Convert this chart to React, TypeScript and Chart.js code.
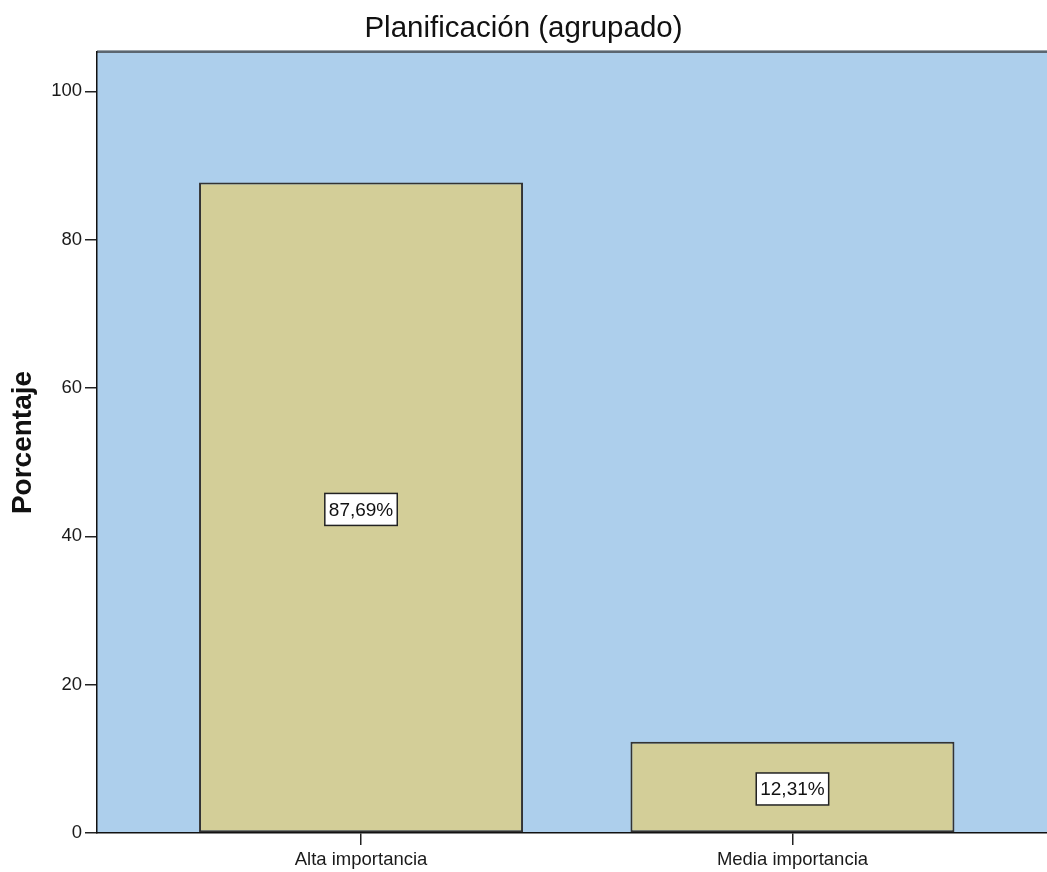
import React, { useEffect, useRef } from "react";
import { Chart, registerables } from "chart.js";

Chart.register(...registerables);

const categories = ["Alta importancia", "Media importancia"];
const percentages = [87.69, 12.31];
const yTicks = [0, 20, 40, 60, 80, 100];
const chartTitle = "Planificación (agrupado)";
const yTitle = "Porcentaje";

const PLOT_BG = "#ADCFEC";
const BAR_FILL = "#D3CE98";
const FONT = "'Liberation Sans', Arial, sans-serif";

const plotBgPlugin = {
  id: "plotBg",
  beforeDraw(chart: any) {
    const { ctx, chartArea } = chart;
    ctx.save();
    ctx.fillStyle = PLOT_BG;
    ctx.fillRect(chartArea.left, chartArea.top, chartArea.right - chartArea.left, chartArea.bottom - chartArea.top);
    ctx.strokeStyle = "#5b6670";
    ctx.lineWidth = 2;
    ctx.beginPath();
    ctx.moveTo(chartArea.left, chartArea.top);
    ctx.lineTo(chartArea.right, chartArea.top);
    ctx.stroke();
    ctx.strokeStyle = "#9aa3aa";
    ctx.lineWidth = 1;
    ctx.beginPath();
    ctx.moveTo(chartArea.left, chartArea.top - 1.5);
    ctx.lineTo(chartArea.right, chartArea.top - 1.5);
    ctx.stroke();
    ctx.restore();
  },
};

const labelBoxPlugin = {
  id: "labelBox",
  afterDatasetsDraw(chart: any) {
    const { ctx } = chart;
    const meta = chart.getDatasetMeta(0);
    ctx.save();
    ctx.font = `19px ${FONT}`;
    ctx.textAlign = "center";
    ctx.textBaseline = "middle";
    meta.data.forEach((bar: any, i: number) => {
      const text = percentages[i].toFixed(2).replace(".", ",") + "%";
      const cx = bar.x;
      const cy = (bar.y + bar.base) / 2 + 2;
      const w = ctx.measureText(text).width + 8;
      const h = 32;
      ctx.fillStyle = "#ffffff";
      ctx.fillRect(cx - w / 2, cy - h / 2, w, h);
      ctx.strokeStyle = "#222";
      ctx.lineWidth = 1.5;
      ctx.strokeRect(cx - w / 2, cy - h / 2, w, h);
      ctx.fillStyle = "#111";
      ctx.fillText(text, cx, cy + 1);
    });
    ctx.restore();
  },
};

export default function App() {
  const canvasRef = useRef<HTMLCanvasElement | null>(null);

  useEffect(() => {
    if (!canvasRef.current) return;
    const data = percentages.map((v, i) => ({ x: i + 1, y: v }));
    const chart = new Chart(canvasRef.current, {
      type: "bar",
      data: {
        datasets: [
          {
            data: data as any,
            backgroundColor: BAR_FILL,
            borderColor: "#333333",
            borderWidth: 2,
            borderSkipped: false,
            barPercentage: 0.751,
            categoryPercentage: 1,
          },
        ],
      },
      options: {
        responsive: false,
        animation: false,
        devicePixelRatio: 1,
        layout: { padding: 0 },
        plugins: {
          legend: { display: false },
          tooltip: { enabled: false },
          title: {
            display: true,
            text: chartTitle,
            color: "#111",
            font: { family: FONT, size: 29.5, weight: "normal" },
            padding: { top: 11, bottom: 5.6 },
          },
        },
        scales: {
          x: {
            type: "linear",
            min: 0.388,
            max: 2.59,
            offset: false,
            afterBuildTicks: (scale: any) => {
              scale.ticks = categories.map((_, i) => ({ value: i + 1 }));
            },
            afterFit: (scale: any) => {
              scale.height = 39;
            },
            ticks: {
              callback: (v: any) => categories[Number(v) - 1] ?? "",
              color: "#1a1a1a",
              font: { family: FONT, size: 18.5 },
              padding: 4,
              maxRotation: 0,
              autoSkip: false,
            },
            grid: {
              display: true,
              drawOnChartArea: false,
              drawTicks: true,
              tickLength: 12,
              color: "#222",
              lineWidth: 1.5,
              offset: false,
            },
            border: { display: true, color: "#111", width: 1.5 },
          },
          y: {
            type: "linear",
            min: 0,
            max: 105.3,
            afterBuildTicks: (scale: any) => {
              scale.ticks = yTicks.map((v) => ({ value: v }));
            },
            afterFit: (scale: any) => {
              scale.width = 97;
            },
            ticks: {
              stepSize: 20,
              includeBounds: false,
              color: "#1a1a1a",
              font: { family: FONT, size: 18.5 },
              padding: 3,
            },
            grid: {
              display: true,
              drawOnChartArea: false,
              drawTicks: true,
              tickLength: 12,
              color: "#222",
              lineWidth: 1.5,
            },
            border: { display: true, color: "#111", width: 1.5 },
            title: {
              display: true,
              text: yTitle,
              color: "#111",
              font: { family: FONT, size: 28, weight: "bold" },
              padding: { top: 6, bottom: 0 },
            },
          },
        },
      },
      plugins: [plotBgPlugin, labelBoxPlugin],
    });
    return () => chart.destroy();
  }, []);

  return (
    <div style={{ position: "fixed", left: 0, top: 0, width: 1047, height: 872, background: "#fff" }}>
      <canvas ref={canvasRef} width={1047} height={872} style={{ display: "block" }} />
    </div>
  );
}
